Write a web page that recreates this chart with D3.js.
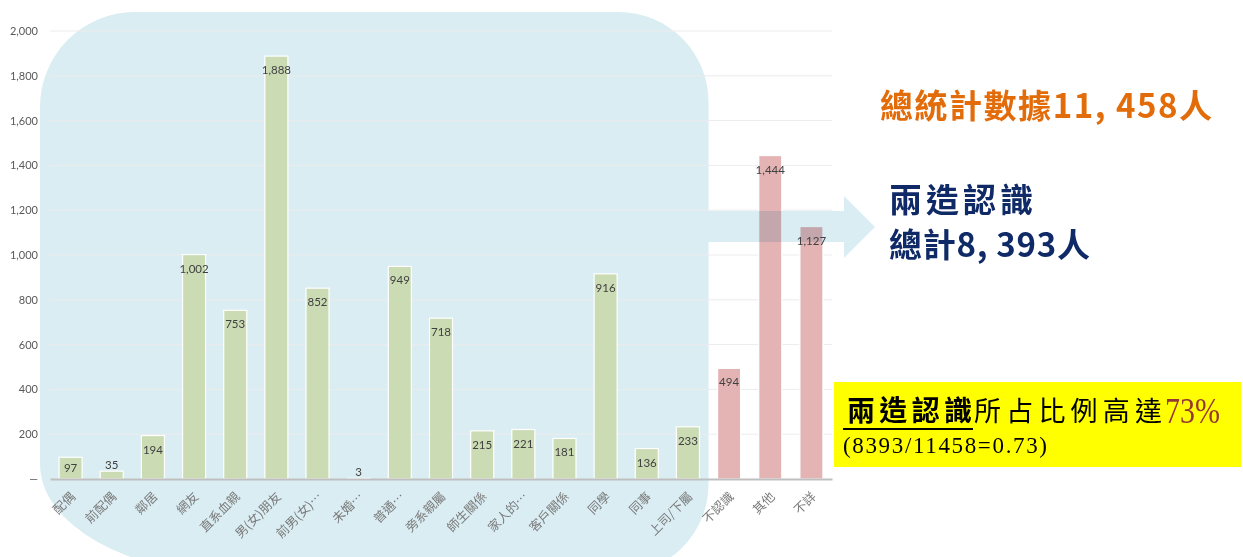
<!DOCTYPE html>
<html>
<head>
<meta charset="utf-8">
<script src="https://cdn.jsdelivr.net/npm/d3@7"></script>
<style>
  body { margin: 0; background: #fff; }
  svg { display: block; }
</style>
</head>
<body>
<div id="chart"></div>
<script>
// Datos
const categories = ["配偶", "前配偶", "鄰居", "網友", "直系血親", "男(女)朋友", "前男(女)…", "未婚…", "普通…", "旁系親屬", "師生關係", "家人的…", "客戶關係", "同學", "同事", "上司/下屬", "不認識", "其他", "不詳"]
const values = [97, 35, 194, 1002, 753, 1888, 852, 3, 949, 718, 215, 221, 181, 916, 136, 233, 494, 1444, 1127]
const knownCategories = categories.slice(0, 16)   // 兩造認識
const yTicks = [0, 200, 400, 600, 800, 1000, 1200, 1400, 1600, 1800, 2000]
const totalLabel = "總統計數據11, 458人"
const knownTitle = "兩造認識"
const knownTotal = "總計8, 393人"
const ratioText = "所占比例高達"
const ratioValue = "73%"
const ratioFormula = "(8393/11458=0.73)"

const width = 1243
const height = 557
const margin = { top: 31, bottom: 78, left: 50, right: 411 }

const svg = d3.select("#chart")
  .append("svg")
  .attr("width", width)
  .attr("height", height)

// Escalas
const x = d3.scaleBand()
  .domain(categories)
  .range([margin.left, width - margin.right])
  .paddingInner(0.44)
  .paddingOuter(0.22)

const y = d3.scaleLinear()
  .domain([0, 2000])
  .range([height - margin.bottom, margin.top])

// Fondo redondeado para los que se conocen
const lastKnown = knownCategories[knownCategories.length - 1]
const bgRight = x(lastKnown) + x.bandwidth() + x.step() * x.paddingInner() / 2
const bg = d3.path()
bg.moveTo(40, 107)
bg.arcTo(40, 12, 135, 12, 95)
bg.lineTo(bgRight - 90, 12)
bg.arcTo(bgRight, 12, bgRight, 102, 90)
bg.lineTo(bgRight, 484)
bg.arcTo(bgRight, 574, bgRight - 90, 574, 90)
bg.lineTo(235, 574)
svg.append("path")
  .attr("d", bg.toString() + " A 195 110 0 0 1 40 464 Z")
  .attr("fill", "#daedf3")

// Rejilla
svg.append("g")
  .selectAll("line")
  .data(yTicks.filter(d => d > 0))
  .join("line")
  .attr("x1", margin.left)
  .attr("x2", width - margin.right)
  .attr("y1", d => y(d))
  .attr("y2", d => y(d))
  .attr("stroke", "#ececec")
  .attr("stroke-width", 1)

// Ejes
const yAxis = d3.axisLeft(y)
  .tickValues(yTicks)
  .tickFormat(d => d === 0 ? "—" : d3.format(",")(d))
  .tickSize(0)
  .tickPadding(12)

svg.append("g")
  .attr("transform", `translate(${margin.left}, 0)`)
  .call(yAxis)
  .call(g => g.select(".domain").remove())
  .selectAll("text")
  .attr("fill", "#595959")
  .style("font-family", "Lato, 'Noto Sans', sans-serif")
  .style("font-size", "11px")

// Barras
const isKnown = d => knownCategories.includes(d)
svg.append("g")
  .selectAll("rect")
  .data(categories)
  .join("rect")
  .attr("x", d => x(d))
  .attr("y", (d, i) => y(values[i]))
  .attr("width", x.bandwidth())
  .attr("height", (d, i) => y(0) - y(values[i]))
  .attr("fill", d => isKnown(d) ? "#cbdcb4" : "#e4b4b5")
  .attr("stroke", "#ffffff")
  .attr("stroke-width", 1.2)

const xAxis = d3.axisBottom(x).tickSize(0)
svg.append("g")
  .attr("transform", `translate(0, ${y(0)})`)
  .call(xAxis)
  .call(g => g.select(".domain").attr("stroke", "#bfbfbf").attr("stroke-width", 2))
  .selectAll("text")
  .attr("x", 0)
  .attr("y", 0)
  .attr("dy", null)
  .attr("transform", "translate(3, 16) rotate(-45)")
  .attr("dominant-baseline", "middle")
  .style("text-anchor", "end")
  .attr("fill", "#7a7a7a")
  .style("font-family", "'Noto Sans CJK TC', sans-serif")
  .style("font-size", "12.5px")

// Flecha
const arrow = d3.path()
arrow.moveTo(bgRight, 211)
arrow.lineTo(844, 211)
arrow.lineTo(844, 196)
arrow.lineTo(875, 227)
arrow.lineTo(844, 258)
arrow.lineTo(844, 242)
arrow.lineTo(bgRight, 242)
arrow.closePath()
svg.append("path")
  .attr("d", arrow.toString())
  .attr("fill", "#daedf3")
  .style("mix-blend-mode", "multiply")

// Etiquetas de valores
svg.append("g")
  .selectAll("text")
  .data(categories)
  .join("text")
  .attr("x", d => x(d) + x.bandwidth() / 2)
  .attr("y", (d, i) => {
    const top = y(values[i])
    const h = y(0) - top
    if (h < 16) return top - 6
    if (h < 30) return top + h / 2
    return top + 14
  })
  .attr("dy", "0.35em")
  .attr("text-anchor", "middle")
  .attr("fill", "#404040")
  .style("font-family", "Lato, 'Noto Sans', sans-serif")
  .style("font-size", "11.5px")
  .text((d, i) => d3.format(",")(values[i]))

// Textos de la derecha
const cjk = "'Noto Sans CJK TC', sans-serif"

svg.append("text")
  .attr("x", 880).attr("y", 118)
  .attr("textLength", 332).attr("lengthAdjust", "spacing")
  .attr("fill", "#e36c0a")
  .style("font-family", cjk).style("font-weight", 700).style("font-size", "33px")
  .text(totalLabel)

svg.append("text")
  .attr("x", 889).attr("y", 212)
  .attr("textLength", 144).attr("lengthAdjust", "spacing")
  .attr("fill", "#0f2a66")
  .style("font-family", cjk).style("font-weight", 700).style("font-size", "33px")
  .text(knownTitle)

svg.append("text")
  .attr("x", 889).attr("y", 257)
  .attr("textLength", 201).attr("lengthAdjust", "spacing")
  .attr("fill", "#0f2a66")
  .style("font-family", cjk).style("font-weight", 700).style("font-size", "33px")
  .text(knownTotal)

// Caja amarilla
svg.append("rect")
  .attr("x", 834).attr("y", 382)
  .attr("width", 407).attr("height", 85)
  .attr("fill", "#ffff00")

svg.append("text")
  .attr("x", 847).attr("y", 421)
  .attr("textLength", 125).attr("lengthAdjust", "spacing")
  .attr("fill", "#000")
  .style("font-family", cjk).style("font-weight", 700).style("font-size", "28px")
  .text(knownTitle)

svg.append("line")
  .attr("x1", 843).attr("x2", 973)
  .attr("y1", 429).attr("y2", 429)
  .attr("stroke", "#000").attr("stroke-width", 2)

svg.append("text")
  .attr("x", 974).attr("y", 421)
  .attr("textLength", 188).attr("lengthAdjust", "spacing")
  .attr("fill", "#000")
  .style("font-family", cjk).style("font-size", "27px")
  .text(ratioText)

svg.append("text")
  .attr("x", 1165).attr("y", 423)
  .attr("textLength", 55).attr("lengthAdjust", "spacingAndGlyphs")
  .attr("fill", "#953735")
  .style("font-family", "'Liberation Serif', serif").style("font-size", "36px")
  .text(ratioValue)

svg.append("text")
  .attr("x", 843).attr("y", 453)
  .attr("textLength", 204).attr("lengthAdjust", "spacing")
  .attr("fill", "#000")
  .style("font-family", "'Liberation Serif', serif").style("font-size", "23px")
  .text(ratioFormula)
</script>
</body>
</html>
